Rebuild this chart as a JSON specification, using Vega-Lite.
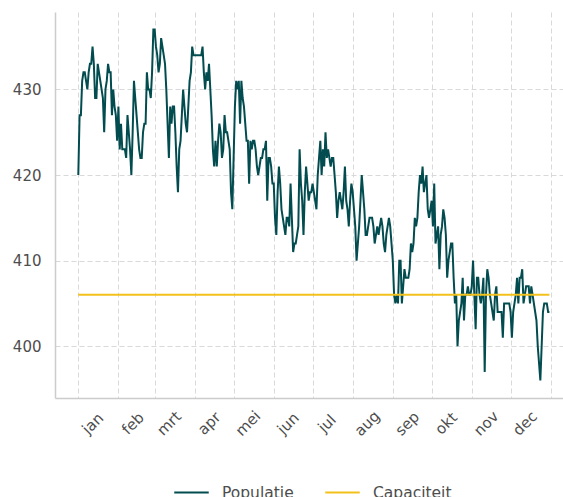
{
"$schema":"https://vega.github.io/schema/vega-lite/v6.json",
"width":508,"height":386,
"autosize":{"type":"none"},
"padding":{"left":55,"top":12,"right":0,"bottom":99},
"background":"white",
"config":{"font":"DejaVu Sans","view":{"stroke":null},
 "axis":{"domainColor":"#cccccc","domainWidth":1.5,"gridColor":"#d9d9d9","gridDash":[5,3],"gridWidth":1,"ticks":false,"tickSize":0,"labelColor":"#4d4d4d","labelFontSize":15,"title":null}},
"datasets":{
"pop":[
{"t":"2023-01-01","v":420},{"t":"2023-01-02","v":427},{"t":"2023-01-03","v":427},{"t":"2023-01-04","v":431},{"t":"2023-01-05","v":432},{"t":"2023-01-06","v":432},{"t":"2023-01-07","v":431},{"t":"2023-01-08","v":430},{"t":"2023-01-09","v":432},{"t":"2023-01-10","v":433},{"t":"2023-01-11","v":433},{"t":"2023-01-12","v":435},{"t":"2023-01-13","v":433},{"t":"2023-01-14","v":429},{"t":"2023-01-15","v":429},{"t":"2023-01-16","v":433},{"t":"2023-01-17","v":432},{"t":"2023-01-18","v":431},{"t":"2023-01-19","v":430},{"t":"2023-01-20","v":429},{"t":"2023-01-21","v":425},{"t":"2023-01-22","v":430},{"t":"2023-01-23","v":431},{"t":"2023-01-24","v":433},{"t":"2023-01-25","v":432},{"t":"2023-01-26","v":432},{"t":"2023-01-27","v":427},{"t":"2023-01-28","v":430},{"t":"2023-01-29","v":428},{"t":"2023-01-30","v":427},{"t":"2023-01-31","v":424},
{"t":"2023-02-01","v":428},{"t":"2023-02-02","v":423},{"t":"2023-02-03","v":426},{"t":"2023-02-04","v":423},{"t":"2023-02-05","v":423},{"t":"2023-02-06","v":423},{"t":"2023-02-07","v":422},{"t":"2023-02-08","v":427},{"t":"2023-02-09","v":425},{"t":"2023-02-10","v":423},{"t":"2023-02-11","v":420},{"t":"2023-02-12","v":425},{"t":"2023-02-13","v":431},{"t":"2023-02-14","v":429},{"t":"2023-02-15","v":427},{"t":"2023-02-16","v":425},{"t":"2023-02-17","v":423},{"t":"2023-02-18","v":422},{"t":"2023-02-19","v":422},{"t":"2023-02-20","v":425},{"t":"2023-02-21","v":426},{"t":"2023-02-22","v":426},{"t":"2023-02-23","v":432},{"t":"2023-02-24","v":430},{"t":"2023-02-25","v":430},{"t":"2023-02-26","v":429},{"t":"2023-02-27","v":432},{"t":"2023-02-28","v":437},
{"t":"2023-03-01","v":437},{"t":"2023-03-02","v":435},{"t":"2023-03-03","v":434},{"t":"2023-03-04","v":432},{"t":"2023-03-05","v":433},{"t":"2023-03-06","v":436},{"t":"2023-03-07","v":435},{"t":"2023-03-08","v":434},{"t":"2023-03-09","v":433},{"t":"2023-03-10","v":430},{"t":"2023-03-11","v":426},{"t":"2023-03-12","v":422},{"t":"2023-03-13","v":428},{"t":"2023-03-14","v":426},{"t":"2023-03-15","v":428},{"t":"2023-03-16","v":428},{"t":"2023-03-17","v":425},{"t":"2023-03-18","v":421},{"t":"2023-03-19","v":418},{"t":"2023-03-20","v":423},{"t":"2023-03-21","v":424},{"t":"2023-03-22","v":427},{"t":"2023-03-23","v":430},{"t":"2023-03-24","v":428},{"t":"2023-03-25","v":426},{"t":"2023-03-26","v":425},{"t":"2023-03-27","v":428},{"t":"2023-03-28","v":431},{"t":"2023-03-29","v":432},{"t":"2023-03-30","v":435},{"t":"2023-03-31","v":434},
{"t":"2023-04-01","v":434},{"t":"2023-04-02","v":434},{"t":"2023-04-03","v":434},{"t":"2023-04-04","v":434},{"t":"2023-04-05","v":434},{"t":"2023-04-06","v":434},{"t":"2023-04-07","v":435},{"t":"2023-04-08","v":432},{"t":"2023-04-09","v":430},{"t":"2023-04-10","v":432},{"t":"2023-04-11","v":431},{"t":"2023-04-12","v":433},{"t":"2023-04-13","v":430},{"t":"2023-04-14","v":427},{"t":"2023-04-15","v":423},{"t":"2023-04-16","v":421},{"t":"2023-04-17","v":424},{"t":"2023-04-18","v":421},{"t":"2023-04-19","v":424},{"t":"2023-04-20","v":426},{"t":"2023-04-21","v":425},{"t":"2023-04-22","v":422},{"t":"2023-04-23","v":423},{"t":"2023-04-24","v":427},{"t":"2023-04-25","v":425},{"t":"2023-04-26","v":425},{"t":"2023-04-27","v":424},{"t":"2023-04-28","v":423},{"t":"2023-04-29","v":418},{"t":"2023-04-30","v":416},
{"t":"2023-05-01","v":422},{"t":"2023-05-02","v":428},{"t":"2023-05-03","v":431},{"t":"2023-05-04","v":430},{"t":"2023-05-05","v":431},{"t":"2023-05-06","v":426},{"t":"2023-05-07","v":431},{"t":"2023-05-08","v":429},{"t":"2023-05-09","v":428},{"t":"2023-05-10","v":426},{"t":"2023-05-11","v":424},{"t":"2023-05-12","v":424},{"t":"2023-05-13","v":419},{"t":"2023-05-14","v":424},{"t":"2023-05-15","v":423},{"t":"2023-05-16","v":424},{"t":"2023-05-17","v":424},{"t":"2023-05-18","v":423},{"t":"2023-05-19","v":421},{"t":"2023-05-20","v":420},{"t":"2023-05-21","v":421},{"t":"2023-05-22","v":422},{"t":"2023-05-23","v":422},{"t":"2023-05-24","v":423},{"t":"2023-05-25","v":423},{"t":"2023-05-26","v":424},{"t":"2023-05-27","v":417},{"t":"2023-05-28","v":422},{"t":"2023-05-29","v":422},{"t":"2023-05-30","v":421},{"t":"2023-05-31","v":419},
{"t":"2023-06-01","v":419},{"t":"2023-06-02","v":415},{"t":"2023-06-03","v":413},{"t":"2023-06-04","v":418},{"t":"2023-06-05","v":421},{"t":"2023-06-06","v":419},{"t":"2023-06-07","v":416},{"t":"2023-06-08","v":415},{"t":"2023-06-09","v":414},{"t":"2023-06-10","v":413},{"t":"2023-06-11","v":415},{"t":"2023-06-12","v":415},{"t":"2023-06-13","v":414},{"t":"2023-06-14","v":419},{"t":"2023-06-15","v":415},{"t":"2023-06-16","v":411},{"t":"2023-06-17","v":412},{"t":"2023-06-18","v":412},{"t":"2023-06-19","v":413},{"t":"2023-06-20","v":414},{"t":"2023-06-21","v":423},{"t":"2023-06-22","v":419},{"t":"2023-06-23","v":417},{"t":"2023-06-24","v":413},{"t":"2023-06-25","v":418},{"t":"2023-06-26","v":421},{"t":"2023-06-27","v":419},{"t":"2023-06-28","v":417},{"t":"2023-06-29","v":418},{"t":"2023-06-30","v":418},
{"t":"2023-07-01","v":419},{"t":"2023-07-02","v":418},{"t":"2023-07-03","v":417},{"t":"2023-07-04","v":416},{"t":"2023-07-05","v":420},{"t":"2023-07-06","v":422},{"t":"2023-07-07","v":424},{"t":"2023-07-08","v":420},{"t":"2023-07-09","v":423},{"t":"2023-07-10","v":421},{"t":"2023-07-11","v":425},{"t":"2023-07-12","v":422},{"t":"2023-07-13","v":423},{"t":"2023-07-14","v":422},{"t":"2023-07-15","v":421},{"t":"2023-07-16","v":422},{"t":"2023-07-17","v":422},{"t":"2023-07-18","v":420},{"t":"2023-07-19","v":418},{"t":"2023-07-20","v":415},{"t":"2023-07-21","v":417},{"t":"2023-07-22","v":418},{"t":"2023-07-23","v":417},{"t":"2023-07-24","v":416},{"t":"2023-07-25","v":418},{"t":"2023-07-26","v":421},{"t":"2023-07-27","v":417},{"t":"2023-07-28","v":416},{"t":"2023-07-29","v":414},{"t":"2023-07-30","v":417},{"t":"2023-07-31","v":419},
{"t":"2023-08-01","v":418},{"t":"2023-08-02","v":416},{"t":"2023-08-03","v":414},{"t":"2023-08-04","v":410},{"t":"2023-08-05","v":412},{"t":"2023-08-06","v":414},{"t":"2023-08-07","v":417},{"t":"2023-08-08","v":420},{"t":"2023-08-09","v":418},{"t":"2023-08-10","v":416},{"t":"2023-08-11","v":413},{"t":"2023-08-12","v":413},{"t":"2023-08-13","v":414},{"t":"2023-08-14","v":415},{"t":"2023-08-15","v":415},{"t":"2023-08-16","v":415},{"t":"2023-08-17","v":414},{"t":"2023-08-18","v":412},{"t":"2023-08-19","v":413},{"t":"2023-08-20","v":414},{"t":"2023-08-21","v":413},{"t":"2023-08-22","v":414},{"t":"2023-08-23","v":415},{"t":"2023-08-24","v":414},{"t":"2023-08-25","v":412},{"t":"2023-08-26","v":411},{"t":"2023-08-27","v":413},{"t":"2023-08-28","v":414},{"t":"2023-08-29","v":415},{"t":"2023-08-30","v":414},{"t":"2023-08-31","v":412},
{"t":"2023-09-01","v":410},{"t":"2023-09-02","v":406},{"t":"2023-09-03","v":405},{"t":"2023-09-04","v":406},{"t":"2023-09-05","v":405},{"t":"2023-09-06","v":410},{"t":"2023-09-07","v":410},{"t":"2023-09-08","v":405},{"t":"2023-09-09","v":407},{"t":"2023-09-10","v":409},{"t":"2023-09-11","v":408},{"t":"2023-09-12","v":408},{"t":"2023-09-13","v":408},{"t":"2023-09-14","v":409},{"t":"2023-09-15","v":412},{"t":"2023-09-16","v":411},{"t":"2023-09-17","v":412},{"t":"2023-09-18","v":415},{"t":"2023-09-19","v":414},{"t":"2023-09-20","v":415},{"t":"2023-09-21","v":418},{"t":"2023-09-22","v":420},{"t":"2023-09-23","v":419},{"t":"2023-09-24","v":421},{"t":"2023-09-25","v":418},{"t":"2023-09-26","v":419},{"t":"2023-09-27","v":420},{"t":"2023-09-28","v":416},{"t":"2023-09-29","v":415},{"t":"2023-09-30","v":416},
{"t":"2023-10-01","v":417},{"t":"2023-10-02","v":414},{"t":"2023-10-03","v":419},{"t":"2023-10-04","v":412},{"t":"2023-10-05","v":413},{"t":"2023-10-06","v":414},{"t":"2023-10-07","v":409},{"t":"2023-10-08","v":413},{"t":"2023-10-09","v":414},{"t":"2023-10-10","v":416},{"t":"2023-10-11","v":415},{"t":"2023-10-12","v":413},{"t":"2023-10-13","v":408},{"t":"2023-10-14","v":410},{"t":"2023-10-15","v":411},{"t":"2023-10-16","v":412},{"t":"2023-10-17","v":412},{"t":"2023-10-18","v":408},{"t":"2023-10-19","v":405},{"t":"2023-10-20","v":406},{"t":"2023-10-21","v":400},{"t":"2023-10-22","v":403},{"t":"2023-10-23","v":404},{"t":"2023-10-24","v":405},{"t":"2023-10-25","v":408},{"t":"2023-10-26","v":403},{"t":"2023-10-27","v":406},{"t":"2023-10-28","v":406},{"t":"2023-10-29","v":407},{"t":"2023-10-30","v":406},{"t":"2023-10-31","v":406},
{"t":"2023-11-01","v":407},{"t":"2023-11-02","v":410},{"t":"2023-11-03","v":406},{"t":"2023-11-04","v":402},{"t":"2023-11-05","v":408},{"t":"2023-11-06","v":408},{"t":"2023-11-07","v":406},{"t":"2023-11-08","v":405},{"t":"2023-11-09","v":406},{"t":"2023-11-10","v":408},{"t":"2023-11-11","v":397},{"t":"2023-11-12","v":406},{"t":"2023-11-13","v":409},{"t":"2023-11-14","v":408},{"t":"2023-11-15","v":406},{"t":"2023-11-16","v":405},{"t":"2023-11-17","v":404},{"t":"2023-11-18","v":403},{"t":"2023-11-19","v":406},{"t":"2023-11-20","v":407},{"t":"2023-11-21","v":404},{"t":"2023-11-22","v":404},{"t":"2023-11-23","v":404},{"t":"2023-11-24","v":404},{"t":"2023-11-25","v":401},{"t":"2023-11-26","v":405},{"t":"2023-11-27","v":405},{"t":"2023-11-28","v":405},{"t":"2023-11-29","v":405},{"t":"2023-11-30","v":405},
{"t":"2023-12-01","v":404},{"t":"2023-12-02","v":401},{"t":"2023-12-03","v":404},{"t":"2023-12-04","v":405},{"t":"2023-12-05","v":406},{"t":"2023-12-06","v":408},{"t":"2023-12-07","v":405},{"t":"2023-12-08","v":408},{"t":"2023-12-09","v":408},{"t":"2023-12-10","v":409},{"t":"2023-12-11","v":405},{"t":"2023-12-12","v":406},{"t":"2023-12-13","v":407},{"t":"2023-12-14","v":407},{"t":"2023-12-15","v":407},{"t":"2023-12-16","v":405},{"t":"2023-12-17","v":407},{"t":"2023-12-18","v":406},{"t":"2023-12-19","v":405},{"t":"2023-12-20","v":404},{"t":"2023-12-21","v":403},{"t":"2023-12-22","v":400},{"t":"2023-12-23","v":398},{"t":"2023-12-24","v":396},{"t":"2023-12-25","v":400},{"t":"2023-12-26","v":404},{"t":"2023-12-27","v":405},{"t":"2023-12-28","v":405},{"t":"2023-12-29","v":405},{"t":"2023-12-30","v":404},{"t":"2023-12-31","v":404}
],
"cap":[{"t":"2023-01-01","v":406},{"t":"2023-12-31","v":406}]
},
"layer":[
{"data":{"name":"pop"},
 "mark":{"type":"line","strokeWidth":2},
 "encoding":{
  "x":{"field":"t","type":"temporal",
   "scale":{"type":"utc","domain":[{"year":2022,"month":12,"date":14,"utc":true},{"year":2024,"month":1,"date":10,"hours":12,"utc":true}]},
   "axis":{"values":[{"year":2023,"month":1,"date":1,"utc":true},{"year":2023,"month":2,"date":1,"utc":true},{"year":2023,"month":3,"date":1,"utc":true},{"year":2023,"month":4,"date":1,"utc":true},{"year":2023,"month":5,"date":1,"utc":true},{"year":2023,"month":6,"date":1,"utc":true},{"year":2023,"month":7,"date":1,"utc":true},{"year":2023,"month":8,"date":1,"utc":true},{"year":2023,"month":9,"date":1,"utc":true},{"year":2023,"month":10,"date":1,"utc":true},{"year":2023,"month":11,"date":1,"utc":true},{"year":2023,"month":12,"date":1,"utc":true},{"year":2024,"month":1,"date":1,"utc":true}],
    "labelExpr":"utcyear(datum.value) > 2023 ? '' : ['jan','feb','mrt','apr','mei','jun','jul','aug','sep','okt','nov','dec'][utcmonth(datum.value)]",
    "labelAngle":-45,"labelAlign":"center","labelBaseline":"middle","labelPadding":25,"labelOffset":14,
    "labelOverlap":false,"labelFlush":false,"labelBound":false,"grid":true}},
  "y":{"field":"v","type":"quantitative",
   "scale":{"domain":[393.95,439.05],"nice":false,"zero":false},
   "axis":{"values":[400,410,420,430],"grid":true,"labelPadding":14}},
  "color":{"datum":"Populatie","type":"nominal",
   "scale":{"domain":["Populatie","Capaciteit"],"range":["#024c50","#f2c11b"]},
   "legend":{"orient":"none","legendX":118,"legendY":462,"direction":"horizontal","title":null,
     "symbolType":"stroke","symbolSize":1190,"symbolStrokeWidth":2,"labelFontSize":15.5,"labelColor":"#4d4d4d","labelOffset":12,"columnPadding":27}}
 }},
{"data":{"name":"cap"},
 "mark":{"type":"line","strokeWidth":2},
 "encoding":{
  "x":{"field":"t","type":"temporal"},
  "y":{"field":"v","type":"quantitative"},
  "color":{"datum":"Capaciteit","type":"nominal"}
 }}
]
}
